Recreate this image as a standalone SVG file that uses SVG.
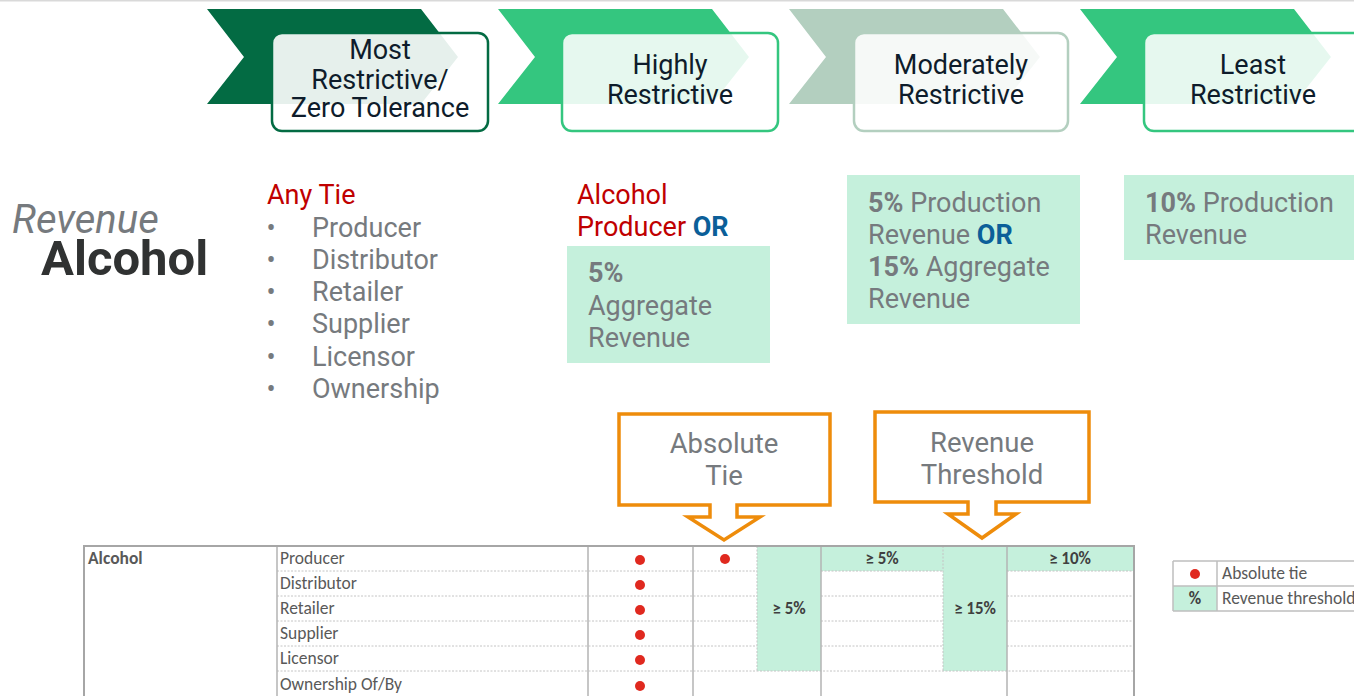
<svg xmlns="http://www.w3.org/2000/svg" width="1354" height="696" viewBox="0 0 1354 696">
  <style>
    .ui { font-family: Roboto, "Liberation Sans", sans-serif; }
    .hdr { font-family: Roboto, "Liberation Sans", sans-serif; font-size: 27px; fill: #0e1c2b; text-anchor: middle; }
    .gray { fill: #767a7e; }
    .red { fill: #c00000; }
    .blue { fill: #0b5f99; font-weight: bold; }
    .b { font-weight: bold; }
    .mint { fill: #c5f0dc; }
    .bullet { font-size: 27px; text-anchor: middle; }
    .callout { fill: #ffffff; stroke: #ee8c0b; stroke-width: 3.5; stroke-linejoin: miter; }
    .ctext { font-family: Roboto, "Liberation Sans", sans-serif; font-size: 27.5px; fill: #767a7e; text-anchor: middle; }
    .tbl { font-family: Carlito, "Liberation Sans", sans-serif; font-size: 17.5px; fill: #595959; }
    .pct { font-family: Carlito, "Liberation Sans", sans-serif; font-size: 17px; font-weight: bold; fill: #404040; text-anchor: middle; }
    .solid { stroke: #b4b4b4; stroke-width: 1.5; fill: none; }
    .dot { stroke: #c4c4c4; stroke-width: 1; stroke-dasharray: 2 1.5; fill: none; }
    .tie { fill: #e0291f; }
  </style>

  <!-- thin rule along the top -->
  <line x1="0" y1="0.75" x2="1354" y2="0.75" stroke="#d9d9d9" stroke-width="1.5"/>

  <!-- stage chevrons with their label boxes -->
  <g id="stage-most">
    <polygon points="207,9 421,9 458,57 421,104 207,104 244,57" fill="#036b43"/>
    <rect x="272" y="33" width="216" height="98" rx="10" fill="#ffffff" fill-opacity="0.9" stroke="#036b43" stroke-width="2.5"/>
    <text class="hdr"><tspan x="380" y="59">Most</tspan><tspan x="380" y="89">Restrictive/</tspan><tspan x="380" y="117">Zero Tolerance</tspan></text>
  </g>
  <g id="stage-highly">
    <polygon points="498,9 712,9 749,57 712,104 498,104 535,57" fill="#34c67f"/>
    <rect x="562" y="33" width="216" height="98" rx="10" fill="#ffffff" fill-opacity="0.88" stroke="#34c67f" stroke-width="2.5"/>
    <text class="hdr"><tspan x="670" y="74">Highly</tspan><tspan x="670" y="104">Restrictive</tspan></text>
  </g>
  <g id="stage-moderately">
    <polygon points="789,9 1003,9 1040,57 1003,104 789,104 826,57" fill="#b3cfbf"/>
    <rect x="854" y="33" width="214" height="98" rx="10" fill="#ffffff" fill-opacity="0.88" stroke="#b3cfbf" stroke-width="2.5"/>
    <text class="hdr"><tspan x="961" y="74">Moderately</tspan><tspan x="961" y="104">Restrictive</tspan></text>
  </g>
  <g id="stage-least">
    <polygon points="1080,9 1294,9 1331,57 1294,104 1080,104 1117,57" fill="#34c67f"/>
    <rect x="1144" y="33" width="224" height="98" rx="10" fill="#ffffff" fill-opacity="0.88" stroke="#34c67f" stroke-width="2.5"/>
    <text class="hdr"><tspan x="1253" y="74">Least</tspan><tspan x="1253" y="104">Restrictive</tspan></text>
  </g>

  <!-- category title -->
  <g id="title">
    <text class="ui gray" x="12" y="233" font-size="40" font-style="italic">Revenue</text>
    <text class="ui" x="41" y="275" font-size="49" font-weight="bold" fill="#303232">Alcohol</text>
  </g>

  <!-- rule descriptions per stage -->
  <g id="rule-most" class="ui" font-size="27">
    <text class="red" x="267" y="204">Any Tie</text>
    <g class="gray">
      <text class="bullet" x="271" y="237">•</text><text x="312" y="237">Producer</text>
      <text class="bullet" x="271" y="269">•</text><text x="312" y="269">Distributor</text>
      <text class="bullet" x="271" y="301">•</text><text x="312" y="301">Retailer</text>
      <text class="bullet" x="271" y="333">•</text><text x="312" y="333">Supplier</text>
      <text class="bullet" x="271" y="366">•</text><text x="312" y="366">Licensor</text>
      <text class="bullet" x="271" y="398">•</text><text x="312" y="398">Ownership</text>
    </g>
  </g>

  <g id="rule-highly" class="ui" font-size="27">
    <text class="red" x="577" y="204">Alcohol</text>
    <text class="red" x="577" y="236">Producer <tspan class="blue">OR</tspan></text>
    <rect class="mint" x="567" y="246" width="203" height="117"/>
    <text class="gray" x="588" y="282"><tspan class="b">5%</tspan></text>
    <text class="gray" x="588" y="315">Aggregate</text>
    <text class="gray" x="588" y="347">Revenue</text>
  </g>

  <g id="rule-moderately" class="ui" font-size="27">
    <rect class="mint" x="847" y="175" width="233" height="149"/>
    <text class="gray" x="868" y="212"><tspan class="b">5%</tspan> Production</text>
    <text class="gray" x="868" y="244">Revenue <tspan class="blue">OR</tspan></text>
    <text class="gray" x="868" y="276"><tspan class="b">15%</tspan> Aggregate</text>
    <text class="gray" x="868" y="308">Revenue</text>
  </g>

  <g id="rule-least" class="ui" font-size="27">
    <rect class="mint" x="1124" y="175" width="230" height="85"/>
    <text class="gray" x="1145" y="212"><tspan class="b">10%</tspan> Production</text>
    <text class="gray" x="1145" y="244">Revenue</text>
  </g>

  <!-- callouts pointing down into the table -->
  <g id="callout-absolute-tie">
    <path class="callout" d="M619,414 H830 V505 H737 V517 H760 L724,540 L688,517 H710 V505 H619 Z"/>
    <text class="ctext"><tspan x="724" y="453">Absolute</tspan><tspan x="724" y="485">Tie</tspan></text>
  </g>
  <g id="callout-revenue-threshold">
    <path class="callout" d="M875,412 H1089 V502 H996 V514 H1016 L982,538 L948,514 H968 V502 H875 Z"/>
    <text class="ctext"><tspan x="982" y="452">Revenue</tspan><tspan x="982" y="484">Threshold</tspan></text>
  </g>

  <!-- summary table -->
  <g id="summary-table">
    <!-- shaded threshold cells -->
    <rect class="mint" x="757" y="546" width="64" height="125"/>
    <rect class="mint" x="943" y="546" width="64" height="125"/>
    <rect class="mint" x="821" y="546" width="122" height="25"/>
    <rect class="mint" x="1007" y="546" width="127" height="25"/>

    <!-- dotted row separators -->
    <path class="dot" d="M277,571 H757 M821,571 H943 M1007,571 H1134
                         M277,596 H757 M821,596 H943 M1007,596 H1134
                         M277,621 H757 M821,621 H943 M1007,621 H1134
                         M277,646 H757 M821,646 H943 M1007,646 H1134
                         M277,671 H1134
                         M757,546 V671 M943,546 V671"/>
    <!-- solid column rules and outer frame -->
    <path class="solid" d="M277,546 V696 M588,546 V696 M693,546 V696 M821,546 V696 M1007,546 V696"/>
    <path d="M84,697 V546 H1134 V697" fill="none" stroke="#a6a6a6" stroke-width="2"/>

    <text class="tbl" x="88" y="564" font-weight="bold" fill="#1f4e79">Alcohol</text>
    <text class="tbl" x="280" y="564">Producer</text>
    <text class="tbl" x="280" y="589">Distributor</text>
    <text class="tbl" x="280" y="614">Retailer</text>
    <text class="tbl" x="280" y="639">Supplier</text>
    <text class="tbl" x="280" y="664">Licensor</text>
    <text class="tbl" x="280" y="690">Ownership Of/By</text>

    <circle class="tie" cx="640" cy="560" r="5"/>
    <circle class="tie" cx="640" cy="585" r="5"/>
    <circle class="tie" cx="640" cy="610" r="5"/>
    <circle class="tie" cx="640" cy="635" r="5"/>
    <circle class="tie" cx="640" cy="660" r="5"/>
    <circle class="tie" cx="640" cy="686" r="5"/>
    <circle class="tie" cx="725" cy="559" r="5"/>

    <text class="pct" x="882" y="564">≥ 5%</text>
    <text class="pct" x="1070" y="564">≥ 10%</text>
    <text class="pct" x="789" y="614">≥ 5%</text>
    <text class="pct" x="975" y="614">≥ 15%</text>
  </g>

  <!-- legend -->
  <g id="legend">
    <rect class="mint" x="1173" y="586" width="44" height="25"/>
    <path d="M1173,561 H1360 M1173,586 H1360 M1173,611 H1360 M1173,561 V611 M1217,561 V611" fill="none" stroke="#bfbfbf" stroke-width="1.5"/>
    <circle class="tie" cx="1195" cy="574" r="5"/>
    <text class="pct" x="1195" y="604" font-weight="normal">%</text>
    <text class="tbl" x="1222" y="579" font-size="17" fill="#262626">Absolute tie</text>
    <text class="tbl" x="1222" y="604" font-size="17" fill="#262626">Revenue threshold</text>
  </g>
</svg>
